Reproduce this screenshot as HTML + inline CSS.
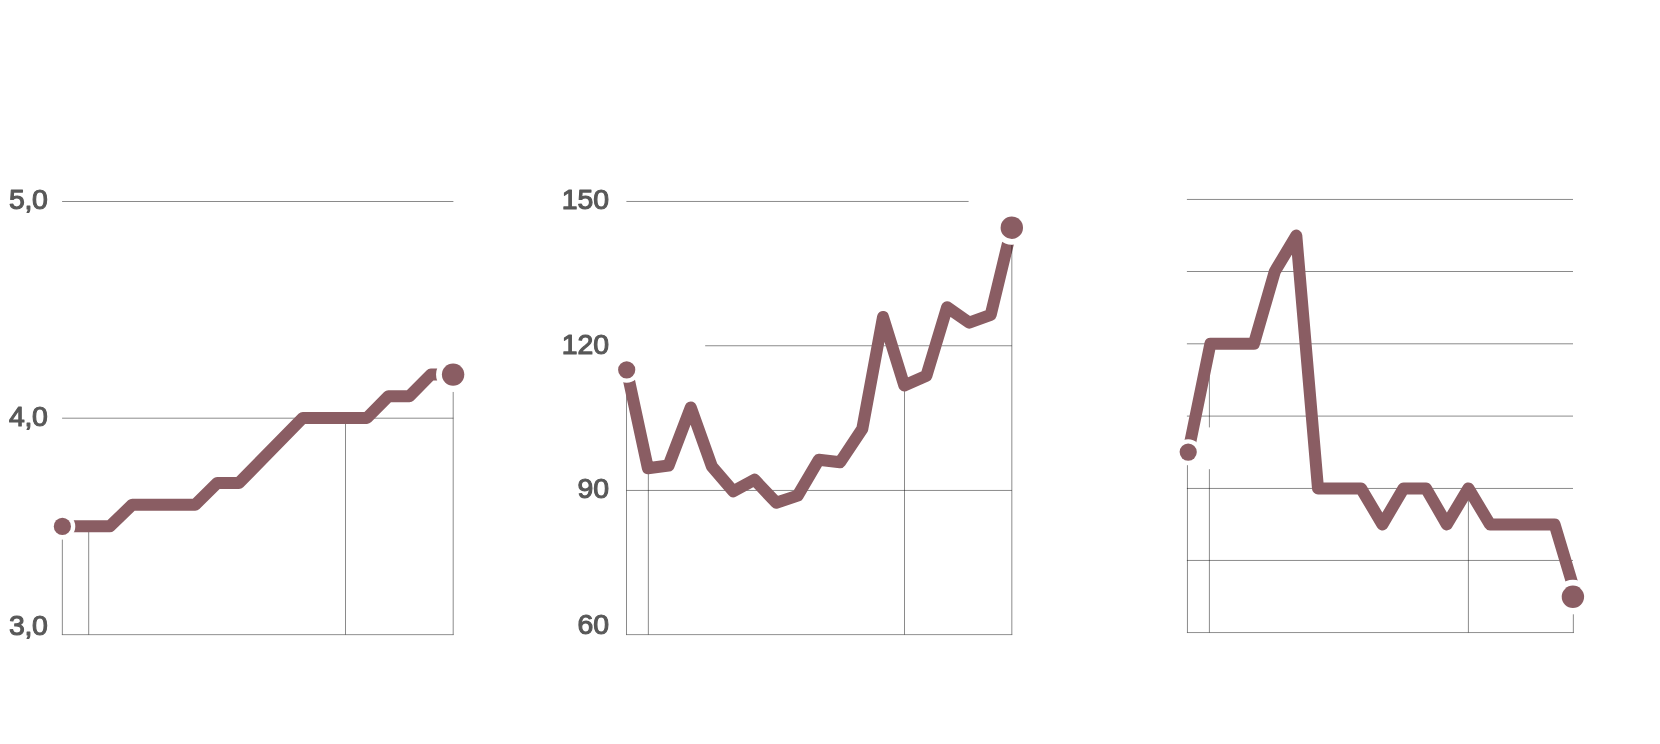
<!DOCTYPE html>
<html>
<head>
<meta charset="utf-8">
<title>Charts</title>
<style>
html,body{margin:0;padding:0;background:#ffffff;}
body{width:1660px;height:744px;overflow:hidden;font-family:"Liberation Sans",sans-serif;}
svg{display:block;position:absolute;left:0;top:0;}
.g{stroke:#000;stroke-opacity:.46;stroke-width:1;fill:none;shape-rendering:auto;}
.ax{stroke:#000;stroke-opacity:.44;stroke-width:1;fill:none;}
.ln{stroke:#8a5d63;stroke-width:12;fill:none;stroke-linejoin:round;stroke-linecap:butt;}
.d1{fill:#8a5d63;stroke:#ffffff;stroke-width:8.6;paint-order:stroke;}
.d2{fill:#8a5d63;stroke:#ffffff;stroke-width:11.7;paint-order:stroke;}
.t{filter:grayscale(1);}
text{font-family:"Liberation Sans",sans-serif;font-weight:normal;font-size:28.4px;fill:#58585a;stroke:#58585a;stroke-width:1.15px;stroke-linejoin:round;}
</style>
</head>
<body>
<svg width="1660" height="744" viewBox="0 0 1660 744">
<!-- chart 1 -->
<g>
<path class="g" d="M62.1,201.5H453.4 M62.1,418.2H453.4"/>
<path class="g" d="M62.35,539.5V634.65 M88.7,526.4V634.65 M345.5,418V634.65 M453.2,391.8V634.65"/>
<path class="ax" d="M61.85,634.65H453.7"/>
<path class="ln" d="M62.4,526.3 L109.8,526.3 L132.3,504.7 L195.2,504.7 L217.2,483 L238.9,483 L302.8,417.9 L367,417.9 L388.4,396.3 L409.4,396.3 L430.8,374.6 L453.1,374.6"/>
<circle class="d1" cx="62.4" cy="526.4" r="8.6"/>
<circle class="d2" cx="453.1" cy="374.6" r="11.2"/>
<g class="t">
<text x="9.1" y="209.1" letter-spacing="-0.4">5,0</text>
<text x="9.1" y="425.7" letter-spacing="-0.4">4,0</text>
<text x="9.1" y="634.5" letter-spacing="-0.4">3,0</text>
</g>
</g>
<!-- chart 2 -->
<g>
<path class="g" d="M626.4,201.46H968.6 M705.2,345.75H1011.85 M626.4,490.45H1011.85"/>
<path class="g" d="M626.5,383.2V634.6 M648.35,468V634.6 M904.5,385.5V634.6 M1011.83,254.5V634.6"/>
<path class="ax" d="M626,634.62H1012.3"/>
<path class="ln" d="M626.7,369.8 L647.9,468.3 L668.6,465.5 L690.8,407.4 L711.8,466.3 L733.3,491.3 L754.5,479.7 L776.2,502.7 L797.7,495.6 L818.8,459.8 L840.1,462.3 L862.3,428.9 L883,317 L904.3,385.5 L926.4,375.7 L947.1,307.3 L969.2,322.6 L990.7,314.8 L1011.7,227.8"/>
<path class="g" d="M1011.83,245V254.5"/>
<circle class="d1" cx="626.7" cy="369.8" r="8.6"/>
<circle class="d2" cx="1011.8" cy="227.7" r="11.2"/>
<g class="t">
<text x="609.0" y="209.3" text-anchor="end">150</text>
<text x="609.0" y="353.8" text-anchor="end">120</text>
<text x="609.0" y="498.1" text-anchor="end">90</text>
<text x="609.0" y="634.3" text-anchor="end">60</text>
</g>
</g>
<!-- chart 3 -->
<g>
<path class="g" d="M1186.9,199.45H1573 M1186.9,271.5H1573 M1186.9,343.8H1573 M1186.9,416.1H1573 M1186.9,488.45H1573 M1186.9,560.45H1573"/>
<path class="g" d="M1187.45,465.2V632.55 M1209.4,343.8V427.4 M1209.4,469.2V632.55 M1468.4,488.4V632.55 M1573.35,614.3V632.55"/>
<path class="ax" d="M1186.95,632.55H1573.85"/>
<path class="ln" d="M1188.2,452.1 L1210.4,343.8 L1253.9,343.8 L1274.8,271.5 L1296.3,235.6 L1318,488.4 L1361,488.4 L1382.4,524.4 L1403.6,488.4 L1426,488.4 L1446.8,524.4 L1468.4,488.4 L1490,524.4 L1554.6,524.4 L1576.3,596.8"/>
<circle class="d1" cx="1188.2" cy="452.1" r="8.6"/>
<circle class="d2" cx="1572.9" cy="596.8" r="11.2"/>
</g>
</svg>
</body>
</html>
